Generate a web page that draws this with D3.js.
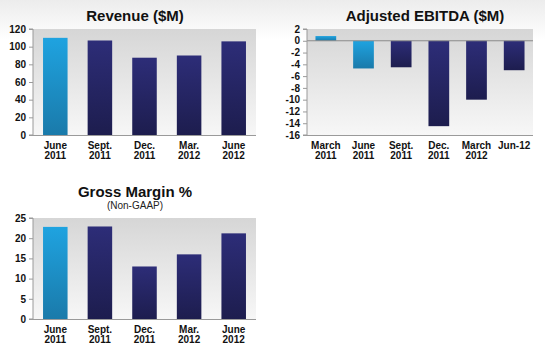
<!DOCTYPE html>
<html><head><meta charset="utf-8">
<script src="https://cdn.jsdelivr.net/npm/d3@7/dist/d3.min.js"></script>
<style>body{margin:0;background:#fff}svg{display:block}</style>
</head><body>
<svg id="c" width="545" height="350"></svg>
<script>
const revCats = [["June","2011"],["Sept.","2011"],["Dec.","2011"],["Mar.","2012"],["June","2012"]];
const revVals = [110, 107, 87.5, 90, 106];
const revTicks = [0,20,40,60,80,100,120];

const ebCats = [["March","2011"],["June","2011"],["Sept.","2011"],["Dec.","2011"],["March","2012"],["Jun-12",""]];
const ebVals = [0.8, -4.7, -4.5, -14.5, -10, -5];
const ebTicks = [2,0,-2,-4,-6,-8,-10,-12,-14,-16];

const gmCats = [["June","2011"],["Sept.","2011"],["Dec.","2011"],["Mar.","2012"],["June","2012"]];
const gmVals = [22.8, 22.9, 13, 16, 21.2];
const gmTicks = [0,5,10,15,20,25];

const revLight = [true,false,false,false,false];
const ebLight = [true,true,false,false,false,false];
const gmLight = [true,false,false,false,false];

const svg = d3.select("#c");
const defs = svg.append("defs");
function lg(id, c1, c2){
  const g = defs.append("linearGradient").attr("id",id).attr("x1",0).attr("y1",0).attr("x2",0).attr("y2",1);
  g.append("stop").attr("offset","0%").attr("stop-color",c1);
  g.append("stop").attr("offset","100%").attr("stop-color",c2);
}
lg("gLight","#1fa3e0","#1a7aaa");
lg("gDark","#2d2d78","#1d1d4e");
lg("gPlot","#d6d6d6","#f7f7f7");
lg("gPage","#ececec","#ffffff");

svg.append("rect").attr("x",0).attr("y",0).attr("width",545).attr("height",40).attr("fill","url(#gPage)");

const FONT = "Arial, 'Liberation Sans', sans-serif";

function chart(o){
  const g = svg.append("g");
  const x = d3.scaleBand().domain(o.cats.map((d,i)=>i)).range([o.left,o.right]).paddingInner(o.pad).paddingOuter(o.pad/2);
  const y = d3.scaleLinear().domain(o.domain).range([o.bottom,o.top]);
  g.append("rect").attr("x",o.left).attr("y",o.top).attr("width",o.right-o.left).attr("height",o.bottom-o.top).attr("fill","url(#gPlot)");
  g.selectAll("rect.bar").data(o.vals).enter().append("rect").attr("class","bar")
    .attr("x",(d,i)=>x(i)).attr("width",x.bandwidth())
    .attr("y",d=>y(Math.max(0,d))).attr("height",d=>Math.abs(y(d)-y(0)))
    .attr("fill",(d,i)=>o.light[i]?"url(#gLight)":"url(#gDark)");
  if(o.zeroLine){
    g.append("line").attr("x1",o.left).attr("x2",o.right).attr("y1",y(0)).attr("y2",y(0)).attr("stroke","#8a8a8a").attr("stroke-width",1);
  }
  const ya = d3.axisLeft(y).tickValues(o.ticks).tickSize(4).tickFormat(d=>String(d));
  const yg = g.append("g").attr("transform",`translate(${o.left},0)`).call(ya);
  yg.select(".domain").attr("stroke","#9a9a9a").attr("d",`M${-4},${o.top}H0V${o.bottom}H${-4}`);
  yg.selectAll(".tick line").attr("stroke","#9a9a9a");
  yg.selectAll(".tick text").attr("x",-7).attr("font-family",FONT).attr("font-size",10).attr("font-weight","bold").attr("fill","#111");
  g.append("line").attr("x1",o.left).attr("x2",o.right).attr("y1",o.bottom+0.5).attr("y2",o.bottom+0.5).attr("stroke","#9a9a9a");
  const lab = g.selectAll("text.cat").data(o.cats).enter().append("text").attr("class","cat")
    .attr("x",(d,i)=>x(i)+x.bandwidth()/2).attr("y",o.bottom+14)
    .attr("text-anchor","middle").attr("font-family",FONT).attr("font-size",10).attr("font-weight","bold").attr("fill","#111");
  lab.append("tspan").attr("x",(d,i)=>x(i)+x.bandwidth()/2).text(d=>d[0]);
  lab.append("tspan").attr("x",(d,i)=>x(i)+x.bandwidth()/2).attr("dy",9.5).text(d=>d[1]);
  g.append("text").attr("x",o.titleX).attr("y",o.titleY).attr("text-anchor","middle")
    .attr("font-family",FONT).attr("font-size",15).attr("font-weight","bold").attr("fill","#111").text(o.title);
  if(o.sub){
    g.append("text").attr("x",o.titleX).attr("y",o.titleY+12).attr("text-anchor","middle")
      .attr("font-family",FONT).attr("font-size",10).attr("fill","#222").text(o.sub);
  }
}

chart({cats:revCats, vals:revVals, ticks:revTicks, light:revLight, domain:[0,120],
  left:33, right:256, top:29, bottom:135, pad:0.45, title:"Revenue ($M)", titleX:135, titleY:21});
chart({cats:ebCats, vals:ebVals, ticks:ebTicks, light:ebLight, domain:[-16,2], zeroLine:true,
  left:307, right:533, top:29, bottom:135, pad:0.45, title:"Adjusted EBITDA ($M)", titleX:425, titleY:21});
chart({cats:gmCats, vals:gmVals, ticks:gmTicks, light:gmLight, domain:[0,25],
  left:33, right:256, top:218, bottom:319, pad:0.45, title:"Gross Margin %", sub:"(Non-GAAP)", titleX:135, titleY:197});
</script>
</body></html>
